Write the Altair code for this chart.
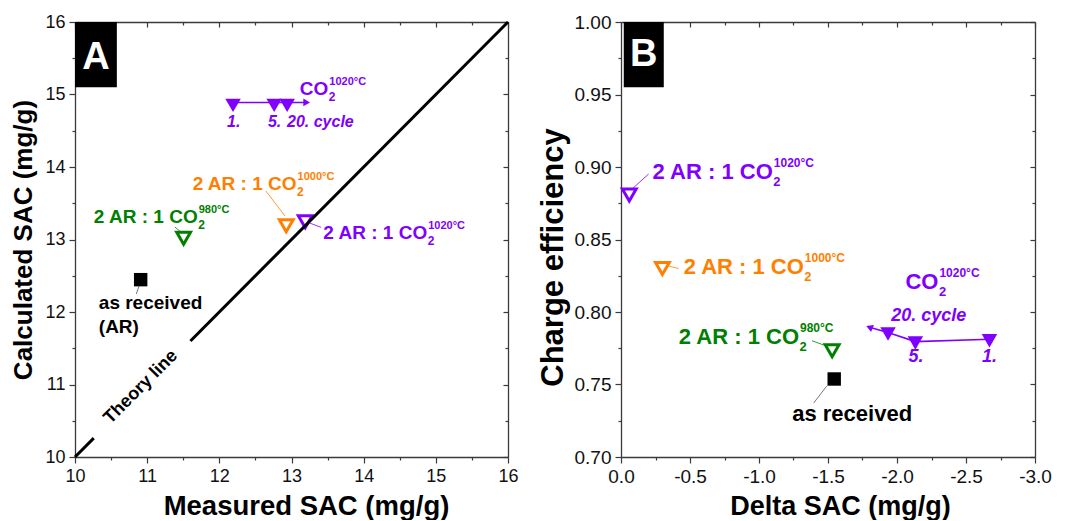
import altair as alt
import pandas as pd

FONT = "Liberation Sans"
PURPLE = "#8000FF"
ORANGE = "#FF8000"
GREEN = "#008000"
BLACK = "#000000"

# ---------------- Panel A data ----------------
a_cycle_x = [12.19, 12.76, 12.94]
a_cycle_y = [14.85, 14.85, 14.85]
a_arrow_x = [12.19, 13.21]
a_arrow_y = [14.89, 14.89]
a_mix_x = [11.505, 12.927, 13.19]
a_mix_y = [13.016, 13.19, 13.245]
a_mix_col = [GREEN, ORANGE, PURPLE]
a_ar_x = [10.91]
a_ar_y = [12.446]
theory_x1 = [10.0, 11.6]
theory_x2 = [10.26, 16.0]

# annotations (data coordinates)
a_main_t = ["2 AR : 1 CO", "2 AR : 1 CO", "2 AR : 1 CO", "CO"]
a_main_x = [11.70, 13.07, 14.88, 13.51]
a_main_y = [13.228, 13.687, 13.007, 15.0]
a_main_c = [GREEN, ORANGE, PURPLE, PURPLE]
a_sup_t = ["980°C", "1000°C", "1020°C", "1020°C"]
a_cyc_t = ["1.", "5.", "20. cycle"]
a_cyc_x = [12.20, 12.766, 13.40]
a_cyc_y = [14.552, 14.552, 14.552]
a_black_t = ["as received", "(AR)"]
a_black_x = [10.33, 10.33]
a_black_y = [12.041, 11.71]
a_lead_x = [12.645, 11.385, 13.25, 10.886]
a_lead_y = [13.669, 13.172, 13.228, 12.354]
a_lead_x2 = [12.91, 11.468, 13.41, 10.849]
a_lead_y2 = [13.324, 13.103, 13.168, 12.248]
a_lead_c = [ORANGE, GREEN, PURPLE, "#555555"]

# ---------------- Panel B data ----------------
b_cycle_x = [-2.67, -2.133, -1.935]
b_cycle_y = [0.7802, 0.7786, 0.7848]
b_arrow_x = [-2.67, -2.133, -1.935, -1.80]
b_arrow_y = [0.7812, 0.7796, 0.7858, 0.7895]
b_mix_x = [-1.53, -0.30, -0.06]
b_mix_y = [0.7733, 0.830, 0.8807]
b_mix_col = [GREEN, ORANGE, PURPLE]
b_ar_x = [-1.545]
b_ar_y = [0.7538]

b_main_t = ["2 AR : 1 CO", "2 AR : 1 CO", "2 AR : 1 CO", "CO"]
b_main_x = [-1.29, -1.325, -1.10, -2.30]
b_main_y = [0.778, 0.8262, 0.8917, 0.8159]
b_main_c = [GREEN, ORANGE, PURPLE, PURPLE]
b_sup_t = ["980°C", "1000°C", "1020°C", "1020°C"]
b_cyc_t = ["20. cycle", "5.", "1."]
b_cyc_x = [-2.23, -2.138, -2.67]
b_cyc_y = [0.794, 0.7653, 0.7653]
b_black_t = ["as received"]
b_black_x = [-1.675]
b_black_y = [0.725]
b_lead_x = [-0.080, -0.333, -1.384, -1.493]
b_lead_y = [0.8848, 0.832, 0.7802, 0.7492]
b_lead_x2 = [-0.20, -0.418, -1.481, -1.396]
b_lead_y2 = [0.8952, 0.830, 0.7768, 0.7372]
b_lead_c = [PURPLE, ORANGE, GREEN, "#555555"]

# axis tick values
a_ticks = [10 + 0.5 * i for i in range(13)]
b_xticks = [-0.25 * i for i in range(13)]
b_yticks = [0.70 + 0.025 * i for i in range(13)]

AXIS_COLOR = "#3a3a3a"


def main_axis(orient, values, label_expr, major, title, title_pad, title_fs, label_fs, **kw):
    return alt.Axis(
        orient=orient, values=values, labelExpr=label_expr, title=title,
        tickSize={"condition": {"test": major, "value": 6}, "value": 3},
        labelOverlap=False, labelFlush=False, grid=False, labelPadding=4,
        titlePadding=title_pad, titleFontSize=title_fs, labelFontSize=label_fs, **kw
    )


def mirror_axis(orient, values, major):
    return alt.Axis(
        orient=orient, values=values, labels=False, title=None, grid=False,
        tickSize=alt.ExprRef(expr=f"({major}) ? -5 : -3"),
    )


def panel(xs, ys, xdom, ydom, xrev, axes, parts, w, h):
    xsc = alt.Scale(domain=xdom, nice=False, zero=False, reverse=xrev)
    ysc = alt.Scale(domain=ydom, nice=False, zero=False)
    X = lambda f, ax=None: alt.X(f, scale=xsc, axis=ax)
    Y = lambda f, ax=None: alt.Y(f, scale=ysc, axis=ax)
    base_df = pd.DataFrame({"x": xs, "y": ys})
    ax_main = alt.Chart(base_df).mark_point(opacity=0).encode(
        x=X("x:Q", axes[0]), y=Y("y:Q", axes[1]))
    ax_mirror = alt.Chart(base_df).mark_point(opacity=0).encode(
        x=X("x:Q", axes[2]), y=Y("y:Q", axes[3]))
    layers = [ax_main, ax_mirror] + [p(X, Y) for p in parts]
    return alt.layer(*layers).resolve_axis(x="independent", y="independent").properties(
        width=w, height=h)


def build_parts(d):
    parts = []
    P = d
    # panel letter box
    parts.append(lambda X, Y: alt.Chart(pd.DataFrame({"x": [P["box"][0]], "x2": [P["box"][1]], "y": [P["box"][2]], "y2": [P["box"][3]]}))
                 .mark_rect(color="black").encode(x=X("x:Q"), x2="x2", y=Y("y:Q"), y2="y2"))
    parts.append(lambda X, Y: alt.Chart(pd.DataFrame({"x": [P["letter"][0]], "y": [P["letter"][1]], "t": [P["letter"][2]]}))
                 .mark_text(font=FONT, fontSize=38, fontWeight="bold", color="white", baseline="middle", align="center")
                 .encode(x=X("x:Q"), y=Y("y:Q"), text="t:N"))
    # leader lines
    parts.append(lambda X, Y: alt.Chart(pd.DataFrame({"x": P["lead_x"], "y": P["lead_y"], "x2": P["lead_x2"], "y2": P["lead_y2"], "c": P["lead_c"]}))
                 .mark_rule(strokeWidth=0.8).encode(x=X("x:Q"), y=Y("y:Q"), x2="x2", y2="y2", color=alt.Color("c:N", scale=None)))
    # arrow line
    parts.append(lambda X, Y: alt.Chart(pd.DataFrame({"x": P["arrow_x"], "y": P["arrow_y"], "o": list(range(len(P["arrow_x"])))}))
                 .mark_line(color=PURPLE, strokeWidth=1.6).encode(x=X("x:Q"), y=Y("y:Q"), order="o:Q"))
    parts.append(lambda X, Y: alt.Chart(pd.DataFrame({"x": P["arrow_x"][-1:], "y": P["arrow_y"][-1:]}))
                 .mark_point(shape=P["head"], angle=P["head_angle"], filled=True, size=60, color=PURPLE, opacity=1)
                 .encode(x=X("x:Q"), y=Y("y:Q")))
    # cycle markers
    parts.append(lambda X, Y: alt.Chart(pd.DataFrame({"x": P["cyc_x"], "y": P["cyc_y"]}))
                 .mark_point(shape="triangle-down", filled=True, size=240, color=PURPLE, opacity=1)
                 .encode(x=X("x:Q"), y=Y("y:Q")))
    # mixture open markers
    parts.append(lambda X, Y: alt.Chart(pd.DataFrame({"x": P["mix_x"], "y": P["mix_y"], "c": P["mix_c"]}))
                 .mark_point(shape="triangle-down", filled=False, size=190, strokeWidth=3, opacity=1)
                 .encode(x=X("x:Q"), y=Y("y:Q"), color=alt.Color("c:N", scale=None)))
    # as received
    parts.append(lambda X, Y: alt.Chart(pd.DataFrame({"x": P["ar_x"], "y": P["ar_y"]}))
                 .mark_square(size=180, color="black", opacity=1).encode(x=X("x:Q"), y=Y("y:Q")))
    # main labels
    fs = P["fs"]
    main_df = pd.DataFrame({"x": P["main_x"], "y": P["main_y"], "t": P["main_t"], "c": P["main_c"]})
    parts.append(lambda X, Y: alt.Chart(main_df).mark_text(font=FONT, fontSize=fs, fontWeight="bold", align="right", baseline="alphabetic")
                 .encode(x=X("x:Q"), y=Y("y:Q"), text="t:N", color=alt.Color("c:N", scale=None)))
    sub_df = main_df.assign(t=["2"] * len(main_df))
    parts.append(lambda X, Y: alt.Chart(sub_df).mark_text(font=FONT, fontSize=P["sub_fs"], fontWeight="bold", align="left", baseline="alphabetic", dy=P["sub_dy"], dx=0.5)
                 .encode(x=X("x:Q"), y=Y("y:Q"), text="t:N", color=alt.Color("c:N", scale=None)))
    sup_df = main_df.assign(t=P["sup_t"])
    parts.append(lambda X, Y: alt.Chart(sup_df).mark_text(font=FONT, fontSize=P["sup_fs"], fontWeight="bold", align="left", baseline="alphabetic", dy=P["sup_dy"], dx=1)
                 .encode(x=X("x:Q"), y=Y("y:Q"), text="t:N", color=alt.Color("c:N", scale=None)))
    # cycle italic labels
    parts.append(lambda X, Y: alt.Chart(pd.DataFrame({"x": P["cl_x"], "y": P["cl_y"], "t": P["cl_t"]}))
                 .mark_text(font=FONT, fontSize=P["cl_fs"], fontWeight="bold", fontStyle="italic", color=PURPLE, align="center", baseline="alphabetic")
                 .encode(x=X("x:Q"), y=Y("y:Q"), text="t:N"))
    # black labels
    parts.append(lambda X, Y: alt.Chart(pd.DataFrame({"x": P["bl_x"], "y": P["bl_y"], "t": P["bl_t"]}))
                 .mark_text(font=FONT, fontSize=fs, fontWeight="bold", color="black", align=P["bl_align"], baseline="alphabetic")
                 .encode(x=X("x:Q"), y=Y("y:Q"), text="t:N"))
    return parts


A = dict(box=[10.0, 10.58, 16.0, 15.10], letter=[10.29, 15.50, "A"],
         lead_x=a_lead_x, lead_y=a_lead_y, lead_x2=a_lead_x2, lead_y2=a_lead_y2, lead_c=a_lead_c,
         arrow_x=a_arrow_x, arrow_y=a_arrow_y, head="triangle-right", head_angle=0,
         cyc_x=a_cycle_x, cyc_y=a_cycle_y, mix_x=a_mix_x, mix_y=a_mix_y, mix_c=a_mix_col,
         ar_x=a_ar_x, ar_y=a_ar_y, fs=19, main_x=a_main_x, main_y=a_main_y, main_t=a_main_t, main_c=a_main_c,
         sub_fs=12, sub_dy=6, sup_t=a_sup_t, sup_fs=11, sup_dy=-10,
         cl_x=a_cyc_x, cl_y=a_cyc_y, cl_t=a_cyc_t, cl_fs=16,
         bl_x=a_black_x, bl_y=a_black_y, bl_t=a_black_t, bl_align="left")

B = dict(box=[-0.02, -0.31, 1.0, 0.955], letter=[-0.165, 0.9775, "B"],
         lead_x=b_lead_x, lead_y=b_lead_y, lead_x2=b_lead_x2, lead_y2=b_lead_y2, lead_c=b_lead_c,
         arrow_x=b_arrow_x, arrow_y=b_arrow_y, head="triangle-left", head_angle=22,
         cyc_x=b_cycle_x, cyc_y=b_cycle_y, mix_x=b_mix_x, mix_y=b_mix_y, mix_c=b_mix_col,
         ar_x=b_ar_x, ar_y=b_ar_y, fs=22, main_x=b_main_x, main_y=b_main_y, main_t=b_main_t, main_c=b_main_c,
         sub_fs=13, sub_dy=7, sup_t=b_sup_t, sup_fs=12, sup_dy=-12,
         cl_x=b_cyc_x, cl_y=b_cyc_y, cl_t=b_cyc_t, cl_fs=18,
         bl_x=b_black_x, bl_y=b_black_y, bl_t=b_black_t, bl_align="center")

partsA = build_parts(A)
# theory line (two segments with a gap for the label) and its label
partsA.append(lambda X, Y: alt.Chart(pd.DataFrame({"x": theory_x1, "x2": theory_x2}))
              .mark_rule(color="black", strokeWidth=3).encode(x=X("x:Q"), y=Y("x:Q"), x2="x2", y2="x2"))
partsA.append(lambda X, Y: alt.Chart(pd.DataFrame({"x": [10.914], "y": [10.966], "t": ["Theory line"]}))
              .mark_text(font=FONT, fontSize=18, fontWeight="bold", angle=315, align="center", baseline="middle", color="black")
              .encode(x=X("x:Q"), y=Y("y:Q"), text="t:N"))

a_major = "datum.value % 1 === 0"
panelA = panel(
    a_cycle_x, a_cycle_y, [10, 16], [10, 16], False,
    [main_axis("bottom", a_ticks, f"{a_major} ? format(datum.value, 'd') : ''", a_major, "Measured SAC (mg/g)", 7, 27.5, 18, titleX=231),
     main_axis("left", a_ticks, f"{a_major} ? format(datum.value, 'd') : ''", a_major, "Calculated SAC (mg/g)", 8, 26, 18),
     mirror_axis("top", a_ticks, a_major),
     mirror_axis("right", a_ticks, a_major)],
    partsA, 433, 435)

bx_major = "abs(datum.value*2 - round(datum.value*2)) < 1e-6"
by_major = "abs(datum.value*20 - round(datum.value*20)) < 1e-6"
panelB = panel(
    b_cycle_x, b_cycle_y, [-3, 0], [0.70, 1.00], True,
    [main_axis("bottom", b_xticks, f"{bx_major} ? (abs(datum.value) < 1e-9 ? '0.0' : '-' + format(abs(datum.value), '.1f')) : ''", bx_major, "Delta SAC (mg/g)", 7, 27, 19, titleX=219),
     main_axis("left", b_yticks, f"{by_major} ? format(datum.value, '.2f') : ''", by_major, "Charge efficiency", 5, 31, 19, titleY=235),
     mirror_axis("top", b_xticks, bx_major),
     mirror_axis("right", b_yticks, by_major)],
    build_parts(B), 414, 435)

chart = alt.hconcat(panelA, panelB, spacing=18).configure_view(stroke=None).configure_axis(
    labelFont=FONT, labelColor="#111111",
    titleFont=FONT, titleFontWeight="bold", titleColor="#000000",
    domainColor=AXIS_COLOR, domainWidth=1.3, tickColor=AXIS_COLOR, tickWidth=1.2,
).properties(padding={"left": 2, "top": 5, "right": 5, "bottom": 0})

chart.save("out.html", embed_options={"renderer": "svg", "actions": False})
